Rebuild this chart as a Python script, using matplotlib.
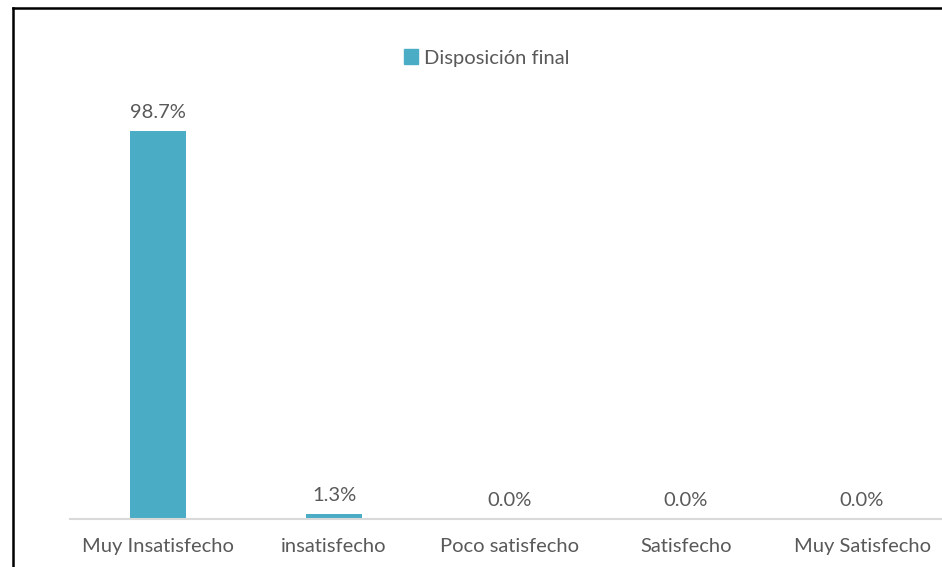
import matplotlib.pyplot as plt
from matplotlib.lines import Line2D
from matplotlib.patches import Patch

categorias = ['Muy Insatisfecho', 'insatisfecho', 'Poco satisfecho', 'Satisfecho', 'Muy Satisfecho']
valores = [98.7, 1.3, 0.0, 0.0, 0.0]
serie = 'Disposición final'

color_barra = '#4BACC6'
gris_texto = '#595959'
plt.rcParams['font.family'] = ['Lato', 'DejaVu Sans']

fig = plt.figure(figsize=(9.42, 5.67), dpi=100)
W, H = 942, 567
# axes span a little past the right edge, as in the original export
ax = fig.add_axes([70 / W, 48 / H, 880 / W, 432 / H])

x = range(len(categorias))
barras = ax.bar(x, valores, width=0.32, color=color_barra, zorder=2)
for xi, v in zip(x, valores):
    ax.text(xi, v + 2.6, f'{v:.1f}%', ha='center', va='bottom',
            fontsize=14.5, color=gris_texto)

ax.set_xlim(-0.5, 4.5)
ax.set_ylim(0, 110)
ax.set_xticks(list(x))
ax.set_xticklabels(categorias, fontsize=14.5, color=gris_texto)
ax.tick_params(axis='x', length=0, pad=14)
ax.set_yticks([])
for lado in ['top', 'right', 'left']:
    ax.spines[lado].set_visible(False)
ax.spines['bottom'].set_color('#d9d9d9')
ax.spines['bottom'].set_linewidth(1.5)

leg = fig.legend(handles=[Patch(color=color_barra, label=serie)],
                 loc='center', bbox_to_anchor=(487 / W, 1 - 58 / H),
                 frameon=False, fontsize=14.5, handlelength=0.7, handleheight=0.7,
                 handletextpad=0.3)
for t in leg.get_texts():
    t.set_color(gris_texto)

# outer frame lines (left and top)
fig.add_artist(Line2D([13 / W, 13 / W], [0, 1 - 8 / H], color='black', lw=1.8))
fig.add_artist(Line2D([13 / W, 1], [1 - 8 / H, 1 - 8 / H], color='black', lw=1.8))

fig.savefig('out.png', dpi=100)
